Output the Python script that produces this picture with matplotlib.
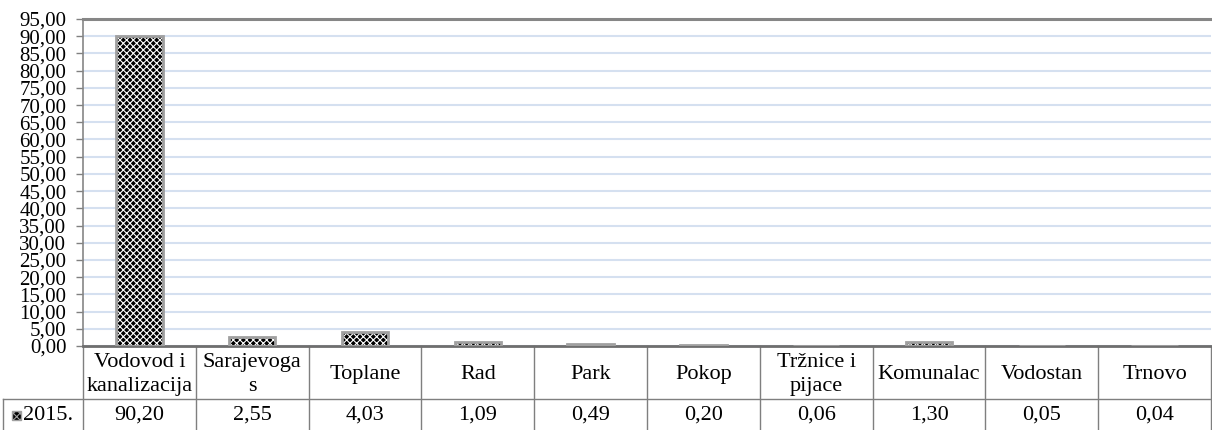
import matplotlib
matplotlib.use("Agg")
import matplotlib.pyplot as plt
import matplotlib.transforms as mtransforms
from matplotlib.patches import Rectangle
import numpy as np

# data
categories = ["Vodovod i\nkanalizacija", "Sarajevoga\ns", "Toplane", "Rad", "Park",
              "Pokop", "Tržnice i\npijace", "Komunalac", "Vodostan", "Trnovo"]
values_2015 = [90.20, 2.55, 4.03, 1.09, 0.49, 0.20, 0.06, 1.30, 0.05, 0.04]
series_name = "2015."
y_ticks = list(range(0, 100, 5))

plt.rcParams["font.family"] = ["Liberation Serif", "DejaVu Serif"]
plt.rcParams["hatch.linewidth"] = 0.8

W, H = 1212, 430
fig = plt.figure(figsize=(W / 100, H / 100), dpi=100)
ax_left, ax_right, ax_top, ax_bottom = 83, 1211, 19, 346
ax = fig.add_axes([ax_left / W, (H - ax_bottom) / H,
                   (ax_right - ax_left) / W, (ax_bottom - ax_top) / H])

x = np.arange(len(categories))
ax.set_xlim(-0.5, len(categories) - 0.5)
ax.set_ylim(0, 95)

# gridlines
ax.set_yticks(y_ticks)
ax.set_yticklabels([f"{v:.2f}".replace(".", ",") for v in y_ticks], fontsize=15)
ax.yaxis.grid(True, color="#d5e0f0", linewidth=1.5)
ax.set_axisbelow(True)
ax.set_xticks([])
ax.tick_params(axis="y", length=5, width=1, color="#808080", pad=7)

# bars: black face with white hatch, grey outline
ax.bar(x, values_2015, width=0.41, color="black", edgecolor="white",
       hatch="xxxxx", linewidth=0, zorder=2)
ax.bar(x, values_2015, width=0.41, fill=False, edgecolor="#a0a0a0",
       linewidth=2, zorder=3)

ax.spines["left"].set_color("#868686")
ax.spines["left"].set_linewidth(1.2)
ax.spines["top"].set_color("#868686")
ax.spines["top"].set_linewidth(2.2)
ax.spines["right"].set_visible(False)
ax.spines["bottom"].set_color("#6e6e6e")
ax.spines["bottom"].set_linewidth(2)

# data table under the chart
ph = ax_bottom - ax_top
row1 = -(399 - ax_bottom) / ph
row2 = -(432 - ax_bottom) / ph
trans = mtransforms.blended_transform_factory(ax.transData, ax.transAxes)
line_kw = dict(color="#7f7f7f", linewidth=1, clip_on=False)

bounds = np.arange(len(categories) + 1) - 0.5
for b in bounds:
    ax.plot([b, b], [0, row2], transform=trans, **line_kw)
left_edge = -(ax_left - 3) / (ax_right - ax_left)
ax.plot([left_edge, 1], [row1, row1], transform=ax.transAxes, **line_kw)
ax.plot([left_edge, left_edge], [row1, row2], transform=ax.transAxes, **line_kw)

val_y = -(415 - ax_bottom) / ph
for xi, cat, val in zip(x, categories, values_2015):
    ax.text(xi, row1 / 2 - 0.005, cat, transform=trans, ha="center", va="center",
            fontsize=16, linespacing=1.35)
    ax.text(xi, val_y, f"{val:.2f}".replace(".", ","),
            transform=trans, ha="center", va="center", fontsize=16)

# legend key + series label
key = Rectangle((12 / W, (H - 420) / H), 9 / W, 9 / H, transform=fig.transFigure,
                facecolor="black", edgecolor="#a0a0a0", hatch="xxxxx", linewidth=1)
fig.patches.append(key)
fig.text(23 / W, (H - 416) / H, series_name, ha="left", va="center", fontsize=16)

fig.savefig("out.png", dpi=100)
